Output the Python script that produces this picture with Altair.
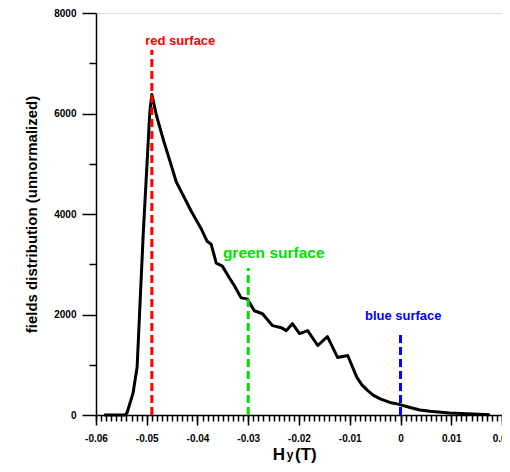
import altair as alt
import pandas as pd

# ---- curve data ----
hy = [-0.0584, -0.0543, -0.0539, -0.0527, -0.0519, -0.0513, -0.0507, -0.0500, -0.0494, -0.0490,
      -0.0481, -0.0466, -0.0452, -0.0442, -0.0432, -0.0412, -0.0393, -0.0381, -0.0373, -0.0363,
      -0.0351, -0.0337, -0.0327, -0.0314, -0.0302, -0.0288, -0.0272, -0.0252, -0.0235, -0.0225,
      -0.0213, -0.0199, -0.0183, -0.0163, -0.0144, -0.0124, -0.0104, -0.0086, -0.0076, -0.0066,
      -0.0054, -0.0040, -0.0021, -0.0005, 0.0019, 0.0038, 0.0058, 0.0097, 0.0143, 0.0176]
dist = [0, 0, 40, 435, 950, 2270, 3590, 4900, 6020, 6380,
        5965, 5432, 4977, 4642, 4444, 4049, 3713, 3457, 3397, 3022,
        2963, 2726, 2568, 2331, 2311, 2074, 2015, 1778, 1738, 1679,
        1817, 1620, 1679, 1383, 1561, 1146, 1185, 750, 600, 500,
        395, 320, 250, 217, 150, 99, 75, 40, 20, 5]

# ---- surfaces ----
surf_names = ["red surface", "green surface", "blue surface"]
surf_x = [-0.049, -0.030, 0.0]
surf_top = [7270, 2925, 1620]
surf_label_x = [-0.0503, -0.0350, -0.0070]
surf_label_y = [7450, 3221, 1976]
surf_colors = ["#FF0000", "#00E000", "#0000FF"]
surf_sizes = [13, 15.5, 13]

# ---- ticks ----
x_major = [-0.06, -0.05, -0.04, -0.03, -0.02, -0.01, 0.0, 0.01, 0.02]
x_minor = [round(-0.06 + i * 0.001, 3) for i in range(81)]
y_major = [0, 2000, 4000, 6000, 8000]
y_minor = [1000, 3000, 5000, 7000]

FONT = "Liberation Sans"

curve_df = pd.DataFrame({"hy": hy, "dist": dist})
surf_df = pd.DataFrame({"name": surf_names, "x": surf_x, "top": surf_top, "lx": surf_label_x,
                        "ly": surf_label_y, "color": surf_colors, "size": surf_sizes})
surf_df["zero"] = 0

xscale = alt.Scale(domain=[-0.06, 0.02], nice=False, zero=False)
yscale = alt.Scale(domain=[0, 8000], nice=False)

x_axis_major = alt.Axis(
    values=x_major, orient="bottom", tickSize=10, tickWidth=1.5, tickColor="black",
    domainColor="black", domainWidth=1.5, grid=False, title=None,
    labelFont=FONT, labelFontWeight="bold", labelFontSize=10, labelColor="black",
    labelPadding=8, labelFlush=False, labelOverlap=False,
    labelExpr="(datum.value < -1e-9 ? '-' : '') + format(abs(datum.value), '.2~f')",
)
x_axis_minor = alt.Axis(
    values=x_minor, orient="bottom", tickSize=6, tickWidth=1.5, tickColor="black",
    domain=False, labels=False, grid=False, title=None,
)
y_axis_major = alt.Axis(
    values=y_major, orient="left", tickSize=14, tickWidth=1.5, tickColor="black",
    domainColor="black", domainWidth=1.5, grid=False,
    title="fields distribution (unnormalized)", titleFont=FONT, titleFontWeight="bold",
    titleFontSize=15, titleColor="black", titlePadding=14,
    labelFont=FONT, labelFontWeight="bold", labelFontSize=10, labelColor="black",
    labelPadding=6, format="d", labelFlush=False, labelOverlap=False,
)
y_axis_minor = alt.Axis(
    values=y_minor, orient="left", tickSize=7, tickWidth=1.5, tickColor="black",
    domain=False, labels=False, grid=False, title=None,
)

curve = alt.Chart(curve_df).mark_line(color="black", strokeWidth=3, strokeJoin="round").encode(
    x=alt.X("hy:Q", scale=xscale, axis=x_axis_major),
    y=alt.Y("dist:Q", scale=yscale, axis=y_axis_major),
)

rules = alt.Chart(surf_df).mark_rule(strokeWidth=3, strokeDash=[8, 4]).encode(
    x=alt.X("x:Q", scale=xscale, axis=x_axis_minor),
    y=alt.Y("zero:Q", scale=yscale, axis=y_axis_minor),
    y2="top:Q",
    color=alt.Color("color:N", scale=None),
)

labels = alt.layer(*[
    alt.Chart(surf_df.iloc[[i]]).mark_text(
        align="left", baseline="middle", font=FONT, fontWeight="bold", fontSize=surf_sizes[i],
        color=surf_colors[i],
    ).encode(
        x=alt.X("lx:Q", scale=xscale, axis=None),
        y=alt.Y("ly:Q", scale=yscale, axis=None),
        text="name:N",
    )
    for i in range(3)
])

title_parts = ["H", "y", "(T)"]
t_h = alt.Chart(pd.DataFrame({"t": [title_parts[0]]})).mark_text(
    align="center", baseline="alphabetic", font=FONT, fontWeight="bold", fontSize=17, color="black"
).encode(x=alt.value(183), y=alt.value(447), text="t:N")
t_y = alt.Chart(pd.DataFrame({"t": [title_parts[1]]})).mark_text(
    align="center", baseline="alphabetic", font=FONT, fontWeight="bold", fontSize=12, color="black"
).encode(x=alt.value(194), y=alt.value(446), text="t:N")
t_t = alt.Chart(pd.DataFrame({"t": [title_parts[2]]})).mark_text(
    align="left", baseline="alphabetic", font=FONT, fontWeight="bold", fontSize=17, color="black"
).encode(x=alt.value(199), y=alt.value(447), text="t:N")

chart = alt.layer(curve, rules, labels, t_h, t_y, t_t).resolve_axis(
    x="independent", y="independent"
).properties(
    width=406, height=402,
    autosize=alt.AutoSizeParams(type="none"),
    padding={"left": 88, "top": 5, "right": 0, "bottom": 49},
).configure_view(stroke=None).configure(background="white")

chart.save("out.html", embed_options={"renderer": "svg", "actions": False})
